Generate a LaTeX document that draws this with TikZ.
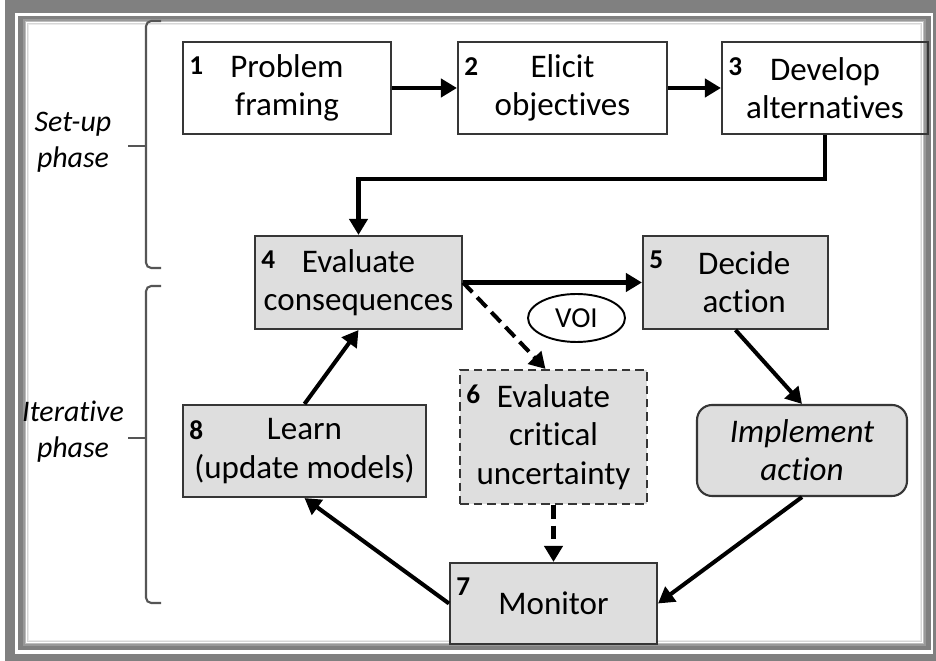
\documentclass[tikz,border=0pt]{standalone}
\usepackage{fontspec}
\setmainfont{Carlito}[Ligatures=NoCommon]
\usetikzlibrary{arrows.meta,shapes.geometric}

\definecolor{framegray}{HTML}{808080}
\definecolor{boxline}{HTML}{363636}
\definecolor{boxfill}{HTML}{DEDEDE}
\definecolor{braceline}{HTML}{555555}

\newcommand\diagfont{\fontsize{18.8}{21.8}\selectfont}
\newcommand\stepnumfont{\fontsize{15.5}{17}\selectfont\bfseries}
\newcommand\phasefont{\fontsize{17}{20.5}\selectfont\itshape}

\tikzset{
  box/.style={draw=boxline, line width=1.2pt, align=center, inner sep=2pt, font=\diagfont},
  greybox/.style={box, fill=boxfill},
  numlabel/.style={anchor=north west, inner sep=0pt, font=\stepnumfont, xshift=0.14cm, yshift=-0.32cm},
  arrow/.style={line width=2.3pt, -{Triangle[length=0.32cm,width=0.36cm]}},
  dasharrow/.style={arrow, dash pattern=on 0.27cm off 0.14cm},
  brace/.style={draw=braceline, line width=1.2pt, rounded corners=3pt},
  phase/.style={align=center, font=\phasefont}
}

\begin{document}
\begin{tikzpicture}[x=0.02cm, y=-0.02cm]
  \useasboundingbox (0,0) rectangle (936,661);

  % Frame
  \fill[framegray] (5,0) rectangle (936,661);
  \fill[white] (15,13) rectangle (933,654);
  \fill[framegray] (18,16) rectangle (931,650);
  \fill[white] (23,19) rectangle (926,646);
  \foreach \i/\c in {0/40,1/26,2/16,3/8}
    \draw[black!\c, line width=0.6pt] ({24+\i*1.6},{20+\i*1.6}) rectangle ({925-\i*1.6},{645-\i*1.6});

  % Phase braces
  \draw[brace] (161,21) -- (146,21) -- (146,268) -- (161,268);
  \draw[brace] (146,146) -- (128,146);
  \draw[brace] (161,286) -- (146,286) -- (146,603) -- (161,603);
  \draw[brace] (146,438) -- (128,438);
  \node[phase] (setup) at (73,142) {Set-up\\phase};
  \node[phase] (iter) at (73,432) {Iterative\\phase};

  % Nodes
  \node[box, minimum width=4.16cm, minimum height=1.84cm, label={[numlabel]north west:1}] (1) at (287,88) {Problem\\framing};
  \node[box, minimum width=4.18cm, minimum height=1.84cm, label={[numlabel]north west:2}] (2) at (562.5,88) {Elicit\\objectives};
  \node[box, minimum width=4.12cm, minimum height=1.84cm, label={[numlabel]north west:3}] (3) at (825,88) {Develop\\alternatives};
  \node[greybox, minimum width=4.14cm, minimum height=1.86cm, label={[numlabel]north west:4}] (4) at (358.5,282.5) {Evaluate\\consequences};
  \node[greybox, minimum width=3.70cm, minimum height=1.86cm, label={[numlabel]north west:5}] (5) at (735.5,282.5) {\hspace*{0.35cm}Decide\\\hspace*{0.35cm}action};
  \node[greybox, dash pattern=on 0.17cm off 0.1cm, minimum width=3.74cm, minimum height=2.68cm, label={[numlabel]north west:6}] (6) at (553.5,437) {Evaluate\\critical\\uncertainty};
  \node[greybox, minimum width=4.14cm, minimum height=1.62cm, label={[numlabel]north west:7}] (7) at (553.5,603.5) {Monitor};
  \node[greybox, minimum width=4.86cm, minimum height=1.84cm, label={[numlabel]north west:8}] (8) at (304.5,451) {Learn\\(update models)};
  \node[greybox, rounded corners=0.3cm, minimum width=4.2cm, minimum height=1.82cm, font=\diagfont\itshape] (act) at (802,450.5) {Implement\\action};
  \node[draw=black, line width=1.1pt, ellipse, minimum width=1.94cm, minimum height=0.96cm, inner sep=0pt, font=\fontsize{16.5}{18}\selectfont] (voi) at (576.5,318) {VOI};

  % Edges
  \draw[arrow] (1) -- (2);
  \draw[arrow] (2) -- (3);
  \draw[arrow] (3.south) -- ++(0,44) -| (4.north);
  \draw[arrow] (4) -- (5);
  \draw[dasharrow] (4.east) -- ([xshift=-0.16cm]6.north);
  \draw[dasharrow] (6) -- (7);
  \draw[arrow] (5.south) -- (act.north);
  \draw[arrow] (act.south) -- (7.east);
  \draw[arrow] (7.west) -- (8.south);
  \draw[arrow] (8.north) -- (4.south);
\end{tikzpicture}
\end{document}
